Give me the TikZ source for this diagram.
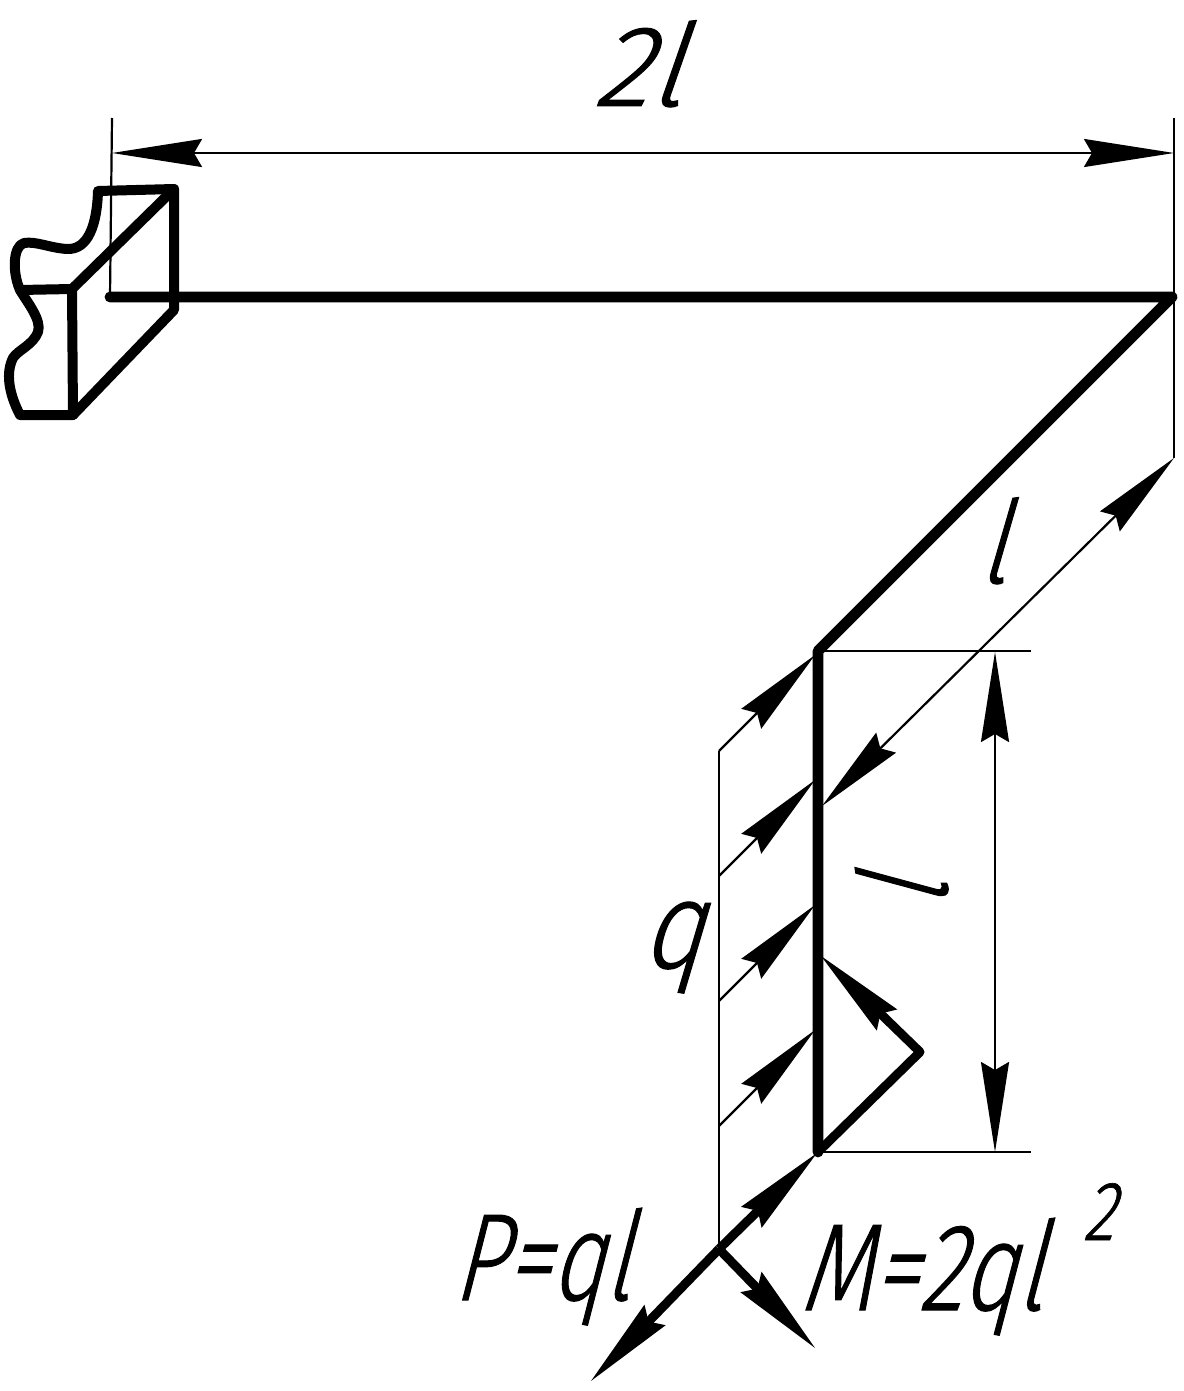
\documentclass[tikz,border=0pt]{standalone}
\usepackage{fontspec}
\usetikzlibrary{arrows.meta}
\newfontfamily\gost[FakeSlant=0.27,FakeStretch=0.78,FakeBold=0.8]{Fira Sans Light}
\tikzset{
  x=0.5pt,y=-0.5pt,
  beam/.style={line width=5.4pt,line cap=round,line join=round},
  wall/.style={line width=5pt,line cap=round,line join=round},
  force/.style={line width=4.5pt,line join=round,-{Stealth[length=46pt,width=14pt,inset=4pt]}},
  thin dim/.style={line width=1.1pt},
  dimboth/.style={line width=1.1pt,{Stealth[length=45pt,width=14pt,inset=4pt]}-{Stealth[length=45pt,width=14pt,inset=4pt]}},
  load/.style={line width=1.1pt,-{Stealth[length=45pt,width=14pt,inset=4pt]}},
  lab/.style={font=\gost\fontsize{62}{62}\selectfont,inner sep=0pt,anchor=base west},
  sup label/.style={font=\gost\fontsize{42}{42}\selectfont,inner sep=0pt,anchor=base west}
}
\begin{document}
\begin{tikzpicture}
\useasboundingbox (0,0) rectangle (1183,1391);
% key points
\coordinate (A) at (110,297);
\coordinate (B) at (1172,297);
\coordinate (C) at (818,651);
\coordinate (D) at (818,1152);
\coordinate (E) at (719,1249);
\coordinate (Ptip) at (590,1382);
\coordinate (Mtip) at (816,1349);
\coordinate (K) at (920,1052);
\coordinate (Ktip) at (820,955);
% wall
\coordinate (W1) at (98,191);
\coordinate (W2) at (174,189);
\coordinate (W3) at (174,310);
\coordinate (W4) at (73,415);
\coordinate (W5) at (72,289);
\coordinate (W6) at (20,415);
\coordinate (W7) at (20,290);
\draw[wall] (W7) -- (W5) -- (W4) -- (W3) -- (W2) -- (W5);
\draw[wall] (W2) -- (W1)
  .. controls (97,225) and (88,250) .. (67,249)
  .. controls (50,248) and (36,241) .. (24,243)
  .. controls (13,246) and (12,272) .. (W7)
  .. controls (27,302) and (42,320) .. (38,332)
  .. controls (33,345) and (18,350) .. (13,358)
  .. controls (6,372) and (8,392) .. (W6) -- (W4);
% extension lines
\coordinate (X1) at (112,118);
\coordinate (X2) at (1174,118);
\coordinate (X3) at (1174,458);
\coordinate (X4) at (1031,651);
\coordinate (X5) at (1031,1152);
\draw[thin dim] (X1) -- (A);
\draw[thin dim] (X2) -- (X3);
\draw[thin dim] (C) -- (X4);
\draw[thin dim] (D) -- (X5);
% dimension lines
\coordinate (H1) at (112,153);
\coordinate (H2) at (1174,153);
\coordinate (L1) at (1174,458);
\coordinate (L2) at (822,806);
\coordinate (V1) at (995,652);
\coordinate (V2) at (995,1152);
\draw[dimboth] (H1) -- (H2);
\draw[dimboth] (L1) -- (L2);
\draw[dimboth] (V1) -- (V2);
% beam
\draw[beam] (A) -- (B) -- (C) -- (D);
% distributed load
\coordinate (Q0) at (719,751);
\coordinate (Q1) at (719,876);
\coordinate (Q2) at (719,1001);
\coordinate (Q3) at (719,1126);
\coordinate (T0) at (815,655);
\coordinate (T1) at (815,780);
\coordinate (T2) at (815,905);
\coordinate (T3) at (815,1030);
\draw[thin dim] (Q0) -- (E);
\draw[load] (Q0) -- (T0);
\draw[load] (Q1) -- (T1);
\draw[load] (Q2) -- (T2);
\draw[load] (Q3) -- (T3);
% forces
\draw[force] (E) -- (D);
\draw[force] (E) -- (Ptip);
\draw[force] (E) -- (Mtip);
\draw[force] (D) -- (K) -- (Ktip);
% labels
\node[lab,xscale=1.2,yscale=0.93] (t2l) at (592,106) {2l};
\node[lab,yscale=0.93] (tl1) at (978,583) {l};
\node[lab,rotate=90] (tl3) at (947,908) {l};
\node[lab,xscale=1.1] (tq) at (640,968) {q};
\node[lab,xscale=0.95] (tP) at (452,1300) {P=ql};
\node[lab,xscale=0.97] (tM) at (799,1310) {M=2ql};
\node[sup label] (ts) at (1082,1240) {2};
\end{tikzpicture}
\end{document}
